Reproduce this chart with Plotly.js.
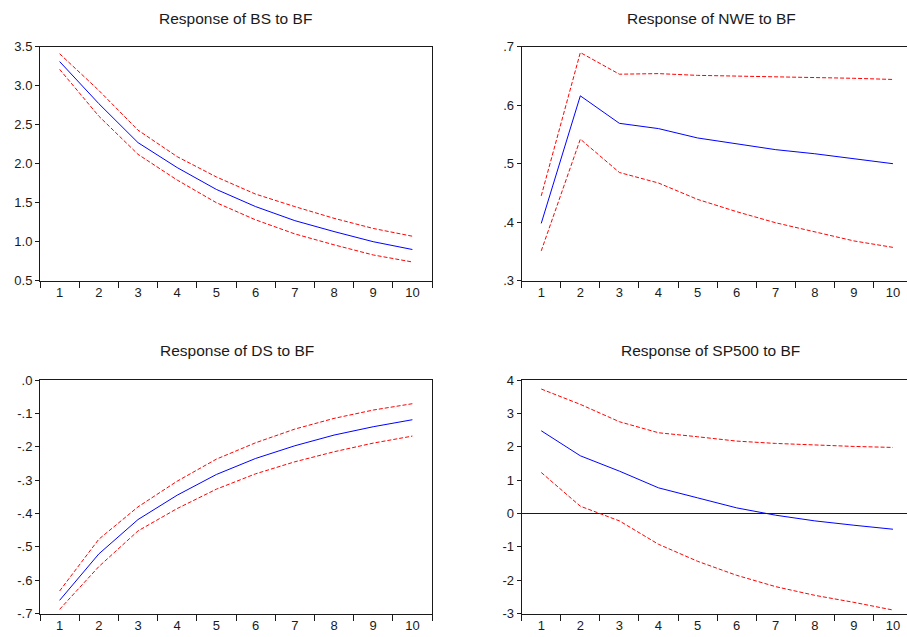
<!DOCTYPE html>
<html>
<head>
<meta charset="utf-8">
<script src="https://cdn.plot.ly/plotly-3.0.1.min.js"></script>
<style>
html,body{margin:0;padding:0;overflow:hidden;background:#fff;}
#chart{width:915px;height:637px;}
</style>
</head>
<body>
<div id="chart"></div>
<script>
const periods = ["1","2","3","4","5","6","7","8","9","10"];

const titles = ["Response of BS to BF","Response of NWE to BF","Response of DS to BF","Response of SP500 to BF"];

const bsResp  = [3.31,2.77,2.27,1.95,1.67,1.45,1.27,1.13,1.00,0.90];
const bsUpper = [3.41,2.94,2.43,2.09,1.83,1.61,1.45,1.30,1.17,1.07];
const bsLower = [3.21,2.61,2.12,1.79,1.50,1.28,1.10,0.96,0.83,0.74];

const nweResp  = [0.398,0.616,0.569,0.560,0.544,0.534,0.524,0.517,0.508,0.500];
const nweUpper = [0.445,0.690,0.653,0.654,0.651,0.650,0.649,0.647,0.646,0.644];
const nweLower = [0.351,0.542,0.485,0.467,0.439,0.418,0.399,0.384,0.368,0.357];

const dsResp  = [-0.660,-0.521,-0.418,-0.345,-0.283,-0.235,-0.197,-0.165,-0.140,-0.119];
const dsUpper = [-0.632,-0.477,-0.380,-0.303,-0.237,-0.188,-0.147,-0.115,-0.090,-0.071];
const dsLower = [-0.687,-0.559,-0.452,-0.385,-0.327,-0.281,-0.245,-0.215,-0.189,-0.168];

const spResp  = [2.48,1.73,1.27,0.77,0.47,0.17,-0.05,-0.22,-0.35,-0.47];
const spUpper = [3.73,3.27,2.75,2.42,2.30,2.17,2.10,2.05,2.01,1.98];
const spLower = [1.23,0.22,-0.22,-0.92,-1.43,-1.85,-2.19,-2.45,-2.66,-2.89];

const bsTicks  = [0.5,1.0,1.5,2.0,2.5,3.0,3.5];
const bsLabels = ["0.5","1.0","1.5","2.0","2.5","3.0","3.5"];
const nweTicks  = [0.3,0.4,0.5,0.6,0.7];
const nweLabels = [".3",".4",".5",".6",".7"];
const dsTicks  = [-0.7,-0.6,-0.5,-0.4,-0.3,-0.2,-0.1,0.0];
const dsLabels = ["-.7","-.6","-.5","-.4","-.3","-.2","-.1",".0"];
const spTicks  = [-3,-2,-1,0,1,2,3,4];
const spLabels = ["-3","-2","-1","0","1","2","3","4"];

const panels = [
  {resp: bsResp, up: bsUpper, lo: bsLower, range:[0.5,3.5], tv: bsTicks, tt: bsLabels},
  {resp: nweResp, up: nweUpper, lo: nweLower, range:[0.3,0.7], tv: nweTicks, tt: nweLabels},
  {resp: dsResp, up: dsUpper, lo: dsLower, range:[-0.7,0.0], tv: dsTicks, tt: dsLabels},
  {resp: spResp, up: spUpper, lo: spLower, range:[-3,4], tv: spTicks, tt: spLabels, zero:true}
];

const W = 915, H = 637;
const xDom = [[40/W, 432/W],[521.7/W, 912.5/W]];
const yDom = [[1-280.7/H, 1-46.7/H],[1-613.7/H, 1-380/H]];
const titlePos = [[236, 18.5],[711, 18.5],[237, 351],[710, 351]];

const data = [];
const layout = {
  width: W, height: H,
  margin: {l:0, r:0, t:0, b:0},
  paper_bgcolor: "#fff", plot_bgcolor: "rgba(0,0,0,0)",
  showlegend: false,
  font: {family: "Liberation Sans, Arial, sans-serif", size: 13, color: "#1a1a1a"},
  annotations: []
};

panels.forEach((p, i) => {
  const n = i + 1;
  const xa = n === 1 ? "x" : "x" + n;
  const ya = n === 1 ? "y" : "y" + n;
  data.push({x: periods, y: p.up, xaxis: xa, yaxis: ya, type: "scatter", mode: "lines",
    line: {color: "#ff0000", width: 1, dash: "4px,2px"}, hoverinfo: "skip"});
  data.push({x: periods, y: p.lo, xaxis: xa, yaxis: ya, type: "scatter", mode: "lines",
    line: {color: "#ff0000", width: 1, dash: "4px,2px"}, hoverinfo: "skip"});
  data.push({x: periods, y: p.resp, xaxis: xa, yaxis: ya, type: "scatter", mode: "lines",
    line: {color: "#0000ff", width: 1}});
  const col = i % 2, row = Math.floor(i / 2);
  layout["xaxis" + (n === 1 ? "" : n)] = {
    domain: xDom[col], anchor: ya, type: "category", categoryorder: "array", categoryarray: periods,
    range: [-0.5, 9.5], tickson: "boundaries", ticks: "outside", ticklen: 6, tickcolor: "#1a1a1a",
    showline: true, linecolor: "#1a1a1a", linewidth: 1, mirror: true, showgrid: false, zeroline: false,
    tickfont: {size: 13, color: "#1a1a1a"}, fixedrange: true
  };
  layout["yaxis" + (n === 1 ? "" : n)] = {
    domain: yDom[row], anchor: xa, range: p.range, tickmode: "array", tickvals: p.tv, ticktext: p.tt,
    ticks: "outside", ticklen: 4, tickcolor: "#1a1a1a", showline: true, linecolor: "#1a1a1a", linewidth: 1,
    mirror: true, showgrid: false, zeroline: !!p.zero, zerolinecolor: "#1a1a1a", zerolinewidth: 1,
    tickfont: {size: 13, color: "#1a1a1a"}, fixedrange: true
  };
  layout.annotations.push({
    text: titles[i], xref: "paper", yref: "paper", x: titlePos[i][0]/W, y: 1 - titlePos[i][1]/H,
    xanchor: "center", yanchor: "middle", showarrow: false,
    font: {family: "Liberation Sans, Arial, sans-serif", size: 15.5, color: "#1a1a1a"}
  });
});

Plotly.newPlot("chart", data, layout, {displayModeBar: false, staticPlot: true});
</script>
</body>
</html>
